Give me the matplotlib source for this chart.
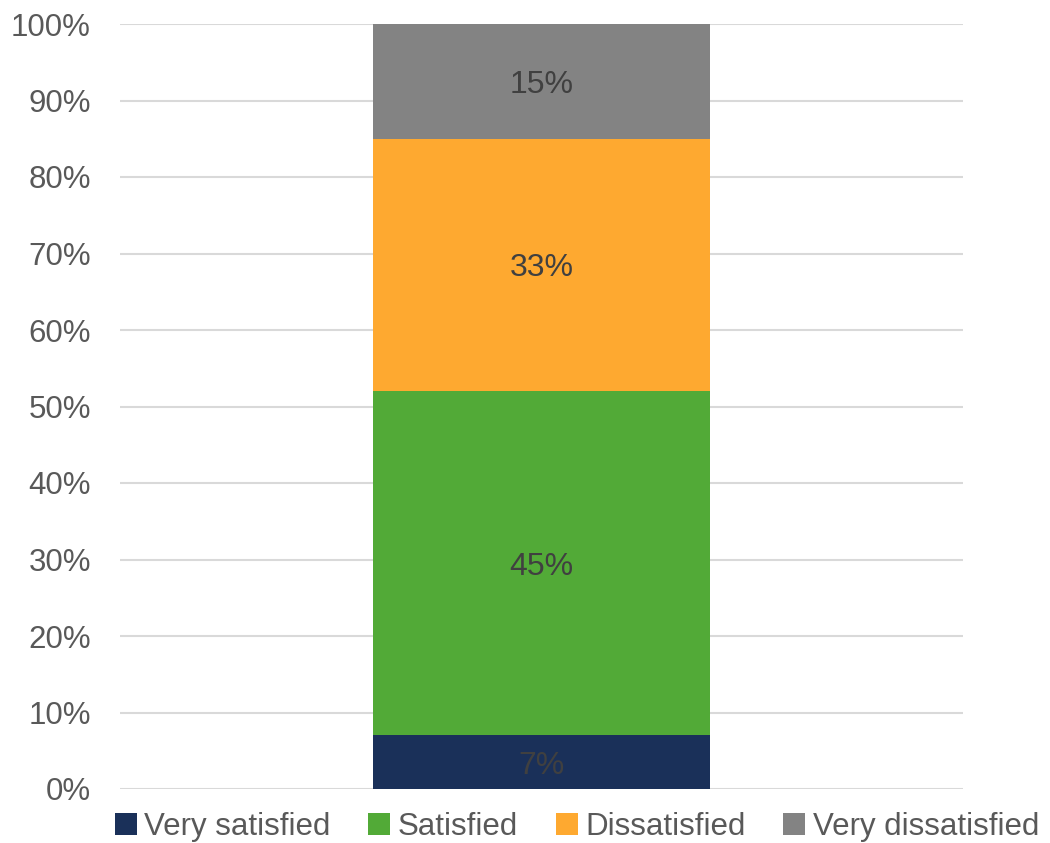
import matplotlib
matplotlib.use("Agg")
import matplotlib.pyplot as plt
from matplotlib.ticker import PercentFormatter

categories = [""]
series_names = ["Very satisfied", "Satisfied", "Dissatisfied", "Very dissatisfied"]
series_values = [7, 45, 33, 15]
series_colors = ["#1a3059", "#52aa37", "#fea930", "#838383"]

plt.rcParams["font.family"] = ["Liberation Sans", "DejaVu Sans"]

fig = plt.figure(figsize=(10.5, 8.43), dpi=100)
ax = fig.add_axes([120 / 1050, 1 - 789 / 843, 843 / 1050, 765 / 843])

bottom = 0
handles = []
for name, val, col in zip(series_names, series_values, series_colors):
    bars = ax.bar(0, val, width=0.8, bottom=bottom, color=col, label=name, zorder=3)
    handles.append(bars)
    ax.text(0, bottom + val / 2, f"{val}%", ha="center", va="center_baseline",
            fontsize=23, color="#404040", zorder=4)
    bottom += val

ax.set_xlim(-1, 1)
ax.set_ylim(0, 100)
ax.set_yticks(range(0, 101, 10))
ax.yaxis.set_major_formatter(PercentFormatter(decimals=0))
ax.set_xticks([])
ax.tick_params(axis="y", length=0, labelsize=22.5, labelcolor="#595959", pad=21)
ax.grid(axis="y", color="#d9d9d9", linewidth=1.5, zorder=0)
for s in ax.spines.values():
    s.set_visible(False)

fig.legend(handles=handles, labels=series_names, loc="center",
           bbox_to_anchor=(577 / 1050, 1 - 827 / 843), ncol=4, frameon=False,
           fontsize=22.5, labelcolor="#595959", handlelength=0.7, handleheight=0.7,
           handletextpad=0.25, columnspacing=1.2, borderaxespad=0)

fig.savefig("out.png", dpi=100)
